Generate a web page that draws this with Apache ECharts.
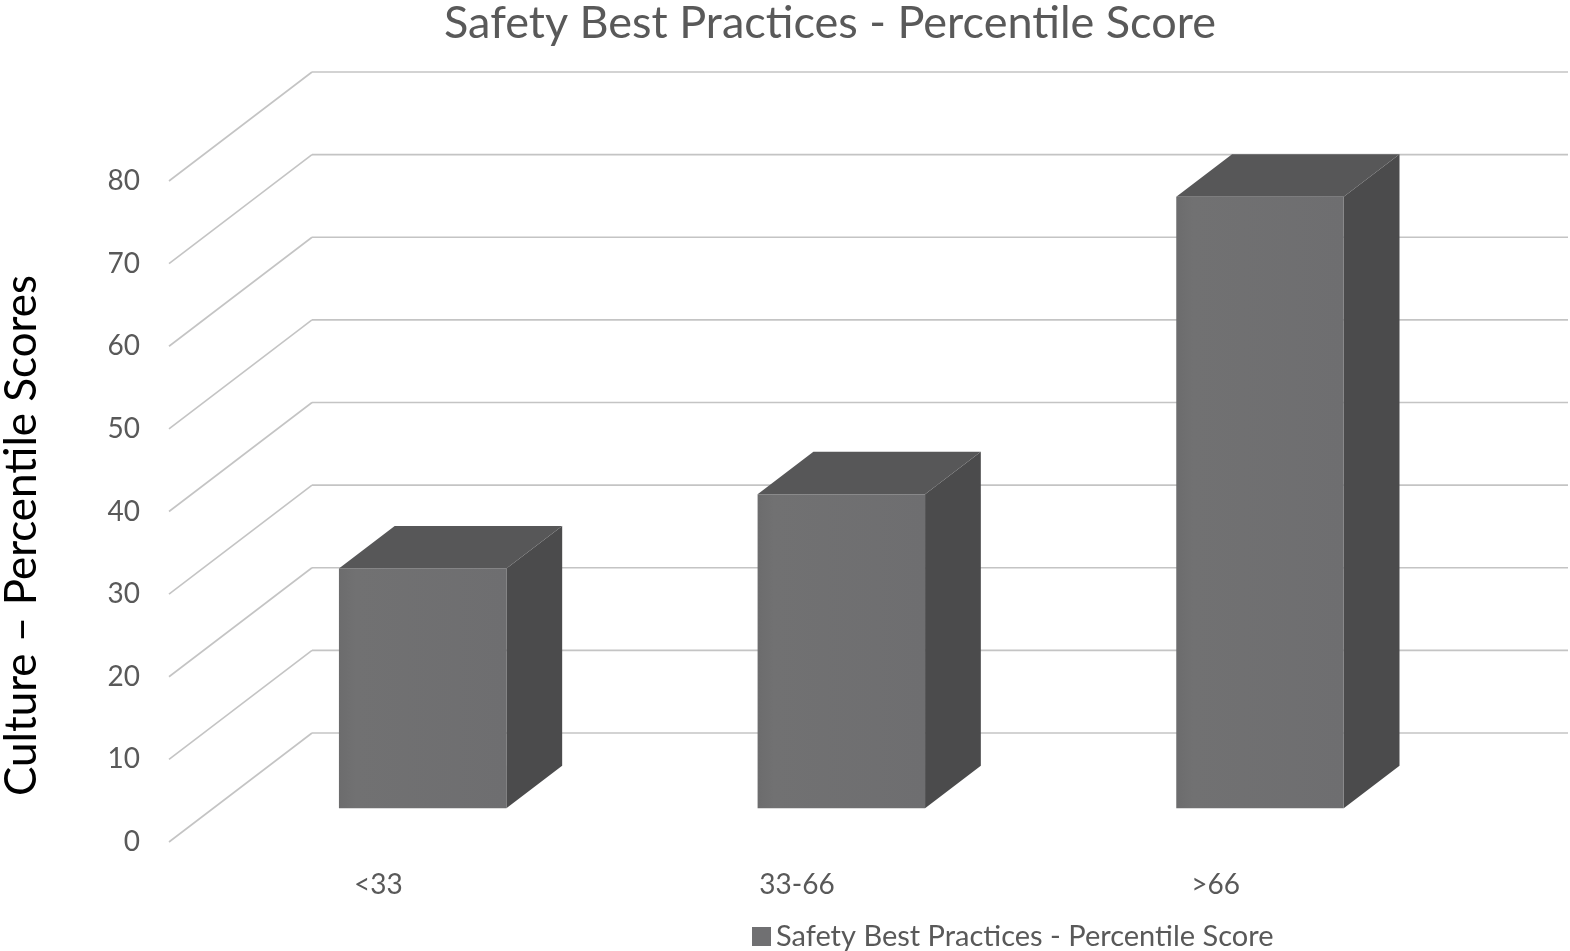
<!DOCTYPE html>
<html lang="en">
<head>
<meta charset="UTF-8">
<title>Safety Best Practices - Percentile Score</title>
<script src="https://cdn.jsdelivr.net/npm/echarts@6/dist/echarts.min.js"></script>
<style>
  html, body { margin: 0; padding: 0; background: #fff; }
  #main { width: 1570px; height: 951px; }
</style>
</head>
<body>
<div id="main"></div>
<script>
    // data
    let categories = ['<33', '33-66', '>66'];
    let scores = [29, 38, 74];
    let yTicks = [0, 10, 20, 30, 40, 50, 60, 70, 80];
    let seriesName = 'Safety Best Practices - Percentile Score';

    // oblique projection: back wall offset in px, bar front position / depth as fraction of it
    const DEPTH = [143, -109];
    const BAR_FRONT = 0.31;
    const BAR_DEPTH = 0.39;
    const BAR_WIDTH = 0.40;
    const FONT = 'Lato, "Open Sans", sans-serif';

    let myChart = echarts.init(document.getElementById('main'));

    function renderGrid(params, api) {
        let cs = params.coordSys;
        let y = api.coord([0, api.value(1)])[1];
        let x0 = cs.x, x1 = cs.x + cs.width;
        let style = { stroke: '#c4c4c4', lineWidth: 1.6 };
        return {
            type: 'group',
            children: [{
                type: 'line',
                shape: { x1: x0, y1: y, x2: x0 + DEPTH[0], y2: y + DEPTH[1] },
                style: style
            }, {
                type: 'line',
                shape: { x1: x0 + DEPTH[0], y1: y + DEPTH[1], x2: x1 + DEPTH[0], y2: y + DEPTH[1] },
                style: style
            }]
        };
    }

    function renderBar(params, api) {
        let idx = api.value(0);
        let top = api.coord([idx, api.value(1)]);
        let bottom = api.coord([idx, 0]);
        let band = api.size([1, 0])[0];
        let w = band * BAR_WIDTH;
        let fx = DEPTH[0] * BAR_FRONT, fy = DEPTH[1] * BAR_FRONT;
        let dx = DEPTH[0] * BAR_DEPTH, dy = DEPTH[1] * BAR_DEPTH;
        let x0 = top[0] - w / 2 + fx;
        let yT = top[1] + fy;
        let yB = bottom[1] + fy;
        return {
            type: 'group',
            children: [{
                type: 'polygon',
                shape: { points: [[x0 + w, yT], [x0 + w + dx, yT + dy], [x0 + w + dx, yB + dy], [x0 + w, yB]] },
                style: { fill: '#4b4b4c' }
            }, {
                type: 'polygon',
                shape: { points: [[x0, yT], [x0 + w, yT], [x0 + w + dx, yT + dy], [x0 + dx, yT + dy]] },
                style: { fill: '#575758' }
            }, {
                type: 'rect',
                shape: { x: x0, y: yT, width: w, height: yB - yT },
                style: {
                    fill: new echarts.graphic.LinearGradient(0, 0, 1, 0, [
                        { offset: 0, color: '#6c6c6d' },
                        { offset: 0.1, color: '#717172' },
                        { offset: 1, color: '#6e6e70' }
                    ])
                }
            }]
        };
    }

    myChart.setOption({
        animation: false,
        title: {
            text: seriesName,
            left: 439,
            top: -4,
            textStyle: { color: '#595959', fontSize: 45, fontWeight: 'normal', fontFamily: FONT }
        },
        legend: {
            data: [seriesName],
            left: 747,
            top: 917,
            icon: 'rect',
            itemWidth: 19,
            itemHeight: 19,
            itemGap: 8,
            itemStyle: { color: '#707072' },
            textStyle: { color: '#595959', fontSize: 29, fontFamily: FONT }
        },
        grid: { left: 169, right: 145, top: 181, bottom: 109, containLabel: false, outerBoundsMode: 'none' },
        xAxis: {
            type: 'category',
            data: categories,
            axisLine: { show: false },
            axisTick: { show: false },
            axisLabel: { margin: 29, color: '#595959', fontSize: 28, fontFamily: FONT }
        },
        yAxis: {
            type: 'value',
            min: 0,
            max: 80,
            interval: 10,
            name: 'Culture – Percentile Scores',
            nameLocation: 'middle',
            nameRotate: 90,
            nameGap: 125,
            nameTextStyle: { color: '#000', fontSize: 44, fontFamily: FONT, padding: [0, 48, 0, 0] },
            axisLine: { show: false },
            axisTick: { show: false },
            splitLine: { show: false },
            axisLabel: { margin: 29, color: '#595959', fontSize: 28, fontFamily: FONT }
        },
        series: [{
            name: 'grid',
            type: 'custom',
            silent: true,
            z: 1,
            renderItem: renderGrid,
            data: yTicks.map(function (v) { return [0, v]; })
        }, {
            name: seriesName,
            type: 'custom',
            z: 5,
            itemStyle: { color: '#707072' },
            renderItem: renderBar,
            data: scores.map(function (v, i) { return [i, v]; })
        }]
    });
</script>
</body>
</html>
